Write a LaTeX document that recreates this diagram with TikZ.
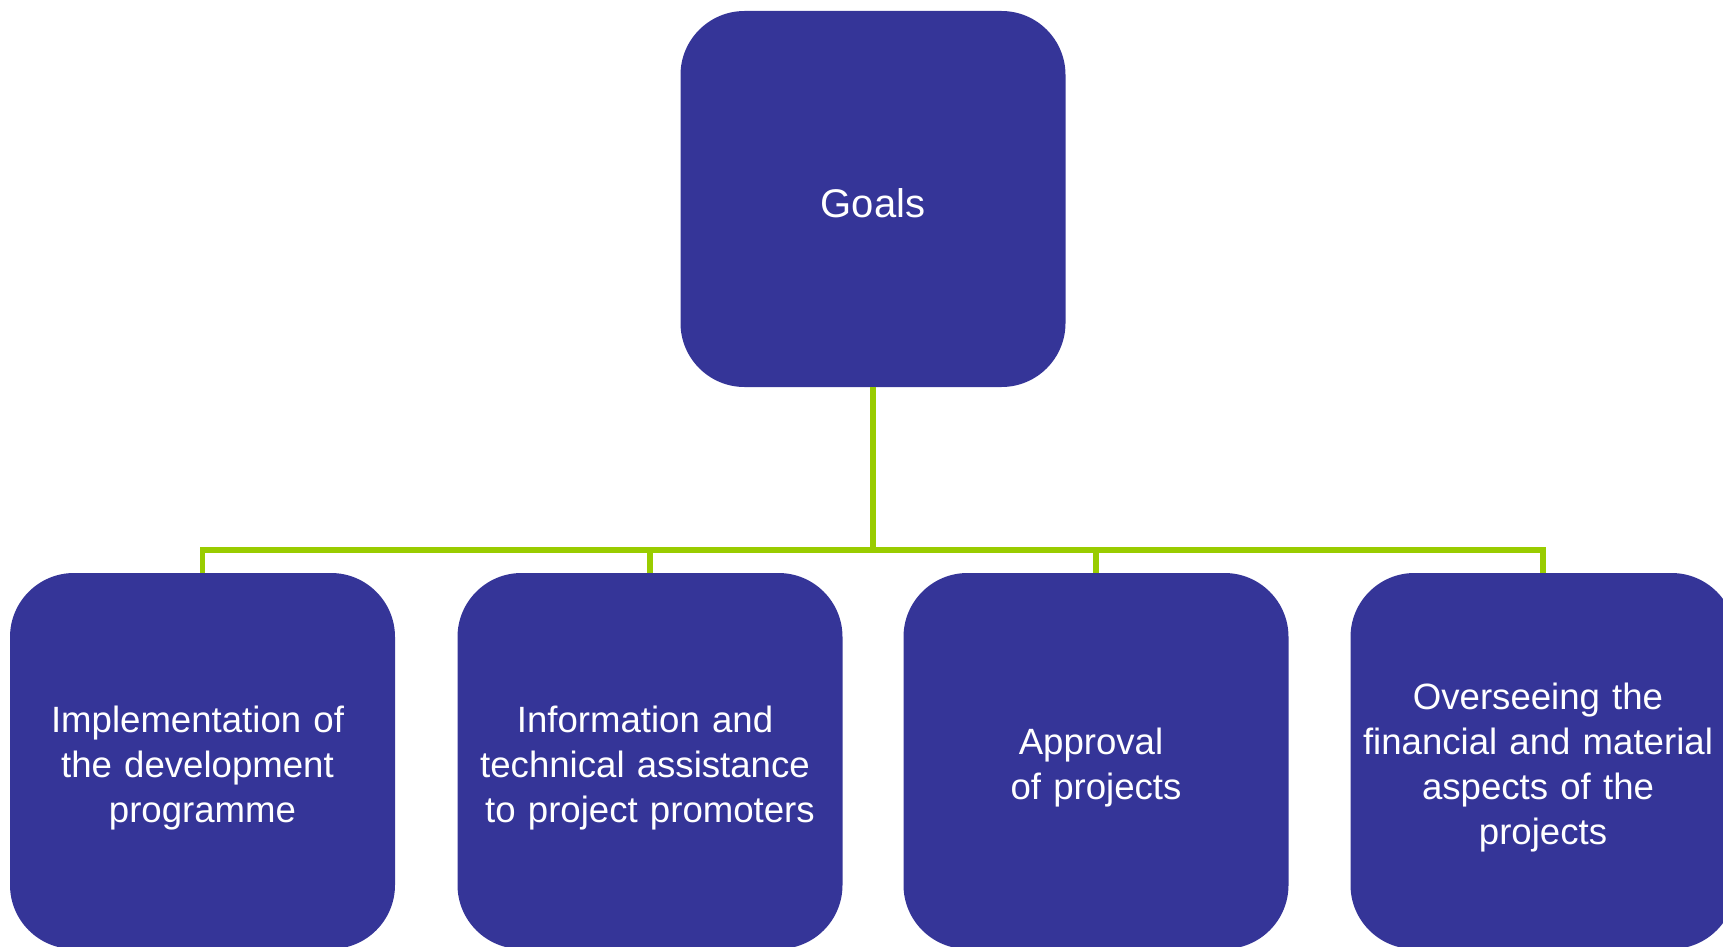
\documentclass[tikz,border=0pt]{standalone}
\usepackage{fontspec}
\setmainfont{Liberation Sans}
\definecolor{boxblue}{HTML}{353598}
\definecolor{linkgreen}{HTML}{99CC00}
\newcommand{\trsp}{\rule{10pt}{0pt}}
\begin{document}
\begin{tikzpicture}[x=1pt,y=-1pt,
  goalbox/.style={fill=boxblue, draw=none, rounded corners=64pt, minimum width=385pt, minimum height=376pt, inner sep=0pt},
  boxtext/.style={text=white, text width=378pt, align=center, inner sep=0pt, font=\fontsize{36.6}{45}\selectfont},
  link/.style={draw=linkgreen, line width=5.5pt}]
\useasboundingbox (0,0) rectangle (1723,947);
\clip (0,0) rectangle (1723,947);
\node[goalbox] (goals) at (873,199) {};
\node[goalbox] (b1) at (202.5,761) {};
\node[goalbox] (b2) at (650,761) {};
\node[goalbox] (b3) at (1096,761) {};
\node[goalbox] (b4) at (1543,761) {};
\node[boxtext, font=\fontsize{40}{48}\selectfont] (goalst) at ([yshift=-4pt]goals.center) {Goals};
\node[boxtext] (b1t) at ([yshift=-7pt]b1.center) {Implementation of\trsp\\the development\trsp\\programme};
\node[boxtext] (b2t) at ([yshift=-7pt]b2.center) {Information and\trsp\\technical assistance\trsp\\to project promoters};
\node[boxtext] (b3t) at ([yshift=-7pt]b3.center) {Approval\trsp\\of projects};
\node[boxtext] (b4t) at ([yshift=-7pt]b4.center) {Overseeing the\trsp\\financial and material\trsp\\aspects of the\trsp\\projects};
\coordinate (hub) at (873,550);
\draw[link] (goals.south) -- (hub);
\draw[link] (b1.north) -- (b1.north |- hub) -- (b4.north |- hub) -- (b4.north);
\draw[link] (b2.north) -- (b2.north |- hub);
\draw[link] (b3.north) -- (b3.north |- hub);
\end{tikzpicture}
\end{document}
